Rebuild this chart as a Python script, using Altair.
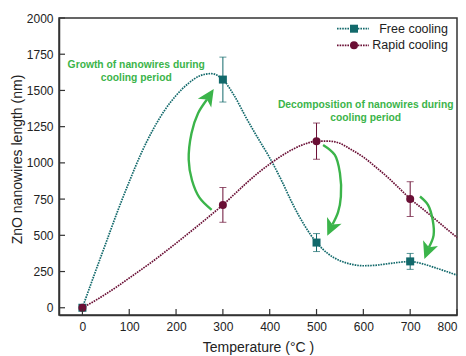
import altair as alt
import pandas as pd
import numpy as np

# ---------------- data ----------------
temps = [0, 300, 500, 700]
free_len = [0, 1575, 450, 320]
free_err = [0, 155, 62, 55]
rapid_len = [0, 710, 1150, 750]
rapid_err = [0, 120, 125, 120]

# fitted curves
curve_t = [0, 25, 50, 75, 100, 125, 150, 175, 200, 225, 250, 275, 300, 325, 350, 375,
           400, 425, 450, 475, 500, 525, 550, 575, 600, 625, 650, 675, 700, 725, 750, 775, 800]
free_curve = [0, 225, 445, 665, 870, 1062, 1225, 1360, 1465, 1545, 1600, 1616, 1575, 1460,
              1310, 1170, 1035, 880, 710, 565, 450, 372, 325, 300, 290, 293, 303, 313, 319,
              305, 280, 253, 225]
rapid_curve = [0, 45, 95, 148, 205, 262, 320, 382, 445, 510, 575, 642, 710, 785, 860, 930,
               992, 1048, 1095, 1130, 1150, 1150, 1135, 1090, 1040, 975, 906, 830, 752, 687,
               620, 552, 485]

series = ["Free cooling", "Rapid cooling"]
x_ticks = [0, 100, 200, 300, 400, 500, 600, 700, 800]
y_ticks = [0, 250, 500, 750, 1000, 1250, 1500, 1750, 2000]

# annotations
ann_text = ["Growth of nanowires during\ncooling period",
            "Decomposition of nanowires during\ncooling period"]
ann_x = [115, 605]
ann_y = [1676, 1397]

arrow1_x = [276, 250, 234, 227, 233, 247, 266]
arrow1_y = [676, 760, 880, 1021, 1205, 1343, 1438]
arrow2_x = [514, 539, 550, 552, 546, 534]
arrow2_y = [1124, 1055, 929, 768, 660, 575]
arrow3_x = [721, 738, 748, 750, 740]
arrow3_y = [768, 710, 607, 500, 417]

# ---------------- styling ----------------
TEAL = "#12696b"
MAROON = "#6a0f35"
TEAL_ERR = "#5f9a9b"
MAROON_ERR = "#a2627e"
GREEN = "#3bb44a"
AXC = "#333333"
FONT = "Liberation Sans"

W, H = 398, 297
X_DOM = [-50, 800]
Y_DOM = [-50, 2000]
xs = alt.Scale(domain=X_DOM, nice=False, zero=False)
ys = alt.Scale(domain=Y_DOM, nice=False, zero=False)
col_scale = alt.Scale(domain=series, range=[TEAL, MAROON])
err_scale = alt.Scale(domain=series, range=[TEAL_ERR, MAROON_ERR])
shape_scale = alt.Scale(domain=series, range=["square", "circle"])

x_axis = alt.Axis(values=x_ticks, ticks=False, grid=False, labelPadding=6,
                  titlePadding=8, format="d")
y_axis = alt.Axis(values=y_ticks, ticks=False, grid=False, labelPadding=6,
                  format="d", titleAngle=-90, titleX=-35, titleY=141,
                  titleAlign="center", titleBaseline="bottom")
XT = "Temperature (°C )"
YT = "ZnO nanowires length (nm)"


def X(f):
    return alt.X(f, type="quantitative", scale=xs, axis=x_axis, title=XT)


def Y(f):
    return alt.Y(f, type="quantitative", scale=ys, axis=y_axis, title=YT)


n = len(curve_t)
curves = pd.DataFrame({
    "t": curve_t * 2,
    "v": free_curve + rapid_curve,
    "s": [series[0]] * n + [series[1]] * n,
})
pts = pd.DataFrame({
    "t": temps * 2,
    "v": free_len + rapid_len,
    "e": free_err + rapid_err,
    "s": [series[0]] * len(temps) + [series[1]] * len(temps),
})
pts["lo"] = pts["v"] - pts["e"]
pts["hi"] = pts["v"] + pts["e"]
errs = pts[pts["e"] > 0]

lines = alt.Chart(curves).mark_line(
    interpolate="monotone", strokeDash=[1.6, 1.0], strokeWidth=1.7
).encode(
    x=X("t"), y=Y("v"),
    color=alt.Color("s:N", scale=col_scale, legend=None),
    detail="s:N",
)

err_rule = alt.Chart(errs).mark_rule(strokeWidth=1).encode(
    x=X("t"), y=Y("lo"), y2="hi",
    color=alt.Color("s:N", scale=err_scale, legend=None),
)
cap_lo = alt.Chart(errs).mark_tick(orient="horizontal", size=7, thickness=1).encode(
    x=X("t"), y=Y("lo"), color=alt.Color("s:N", scale=err_scale, legend=None))
cap_hi = alt.Chart(errs).mark_tick(orient="horizontal", size=7, thickness=1).encode(
    x=X("t"), y=Y("hi"), color=alt.Color("s:N", scale=err_scale, legend=None))

markers = alt.Chart(pts).mark_point(filled=True, opacity=1, size=64).encode(
    x=X("t"), y=Y("v"),
    color=alt.Color("s:N", scale=col_scale, legend=None),
    shape=alt.Shape("s:N", scale=shape_scale, legend=None),
)

# inward ticks
xt = alt.Chart(pd.DataFrame({"t": x_ticks})).mark_rule(color=AXC, strokeWidth=1.2).encode(
    x=X("t"), y=alt.value(H), y2=alt.value(H - 6))
yt = alt.Chart(pd.DataFrame({"v": y_ticks})).mark_rule(color=AXC, strokeWidth=1.2).encode(
    y=Y("v"), x=alt.value(0), x2=alt.value(6))

# annotations
ann = alt.Chart(pd.DataFrame({"t": ann_x, "v": ann_y, "txt": ann_text})).mark_text(
    color=GREEN, font=FONT, fontSize=10.3, fontWeight="bold", lineBreak="\n",
    lineHeight=13, align="center", baseline="middle"
).encode(x=X("t"), y=Y("v"), text="txt:N")

sx = W / (X_DOM[1] - X_DOM[0])
sy = H / (Y_DOM[1] - Y_DOM[0])
arrows = [(arrow1_x, arrow1_y), (arrow2_x, arrow2_y), (arrow3_x, arrow3_y)]
arr_rows = []
head_rows = []
for i, (ax, ay) in enumerate(arrows):
    for j, (a, b) in enumerate(zip(ax, ay)):
        arr_rows.append({"id": i, "o": j, "t": a, "v": b})
    dx = (ax[-1] - ax[-2]) * sx
    dy = (ay[-1] - ay[-2]) * sy
    ang = float(np.degrees(np.arctan2(dx, dy))) % 360
    head_rows.append({"t": ax[-1], "v": ay[-1], "ang": ang})

arr_lines = alt.Chart(pd.DataFrame(arr_rows)).mark_line(
    interpolate="catmull-rom", color=GREEN, strokeWidth=2.4
).encode(x=X("t"), y=Y("v"), detail="id:N", order="o:Q")

HEAD = "M0,-1.25L0.8,0.45L0,0L-0.8,0.45Z"
heads = alt.Chart(pd.DataFrame(head_rows)).mark_point(
    shape=HEAD, filled=True, opacity=1, color=GREEN, size=400, strokeWidth=0
).encode(x=X("t"), y=Y("v"), angle=alt.Angle("ang:Q", scale=None))

# manual legend (top-right, inside the frame)
def legend_item(label, color, shape, ypx):
    base = alt.Chart(pd.DataFrame({"k": [0]}))
    ln = base.mark_rule(color=color, strokeDash=[1.6, 1.0], strokeWidth=1.7).encode(
        x=alt.value(278), x2=alt.value(310), y=alt.value(ypx))
    mk = base.mark_point(shape=shape, filled=True, opacity=1, size=64, color=color).encode(
        x=alt.value(295), y=alt.value(ypx))
    tx = base.mark_text(align="right", baseline="middle", font=FONT, fontSize=12.5,
                        color="#222222", text=label).encode(
        x=alt.value(389), y=alt.value(ypx))
    return [ln, mk, tx]

leg = legend_item("Free cooling", TEAL, "square", 10.7) + \
    legend_item("Rapid cooling", MAROON, "circle", 27.3)

chart = alt.layer(
    lines, err_rule, cap_lo, cap_hi, markers, xt, yt, arr_lines, heads, ann, *leg
).properties(
    width=W, height=H,
    autosize="none",
    padding={"left": 59, "top": 18, "right": 9, "bottom": 41},
).configure_view(
    stroke=AXC, strokeWidth=1.5
).configure_axis(
    labelFont=FONT, labelFontSize=12, labelColor="#222222",
    titleFont=FONT, titleFontSize=14, titleFontWeight="normal", titleColor="#222222",
    domainColor=AXC, domainWidth=1.5,
)

chart.save("out.html", embed_options={"renderer": "svg", "actions": False})
